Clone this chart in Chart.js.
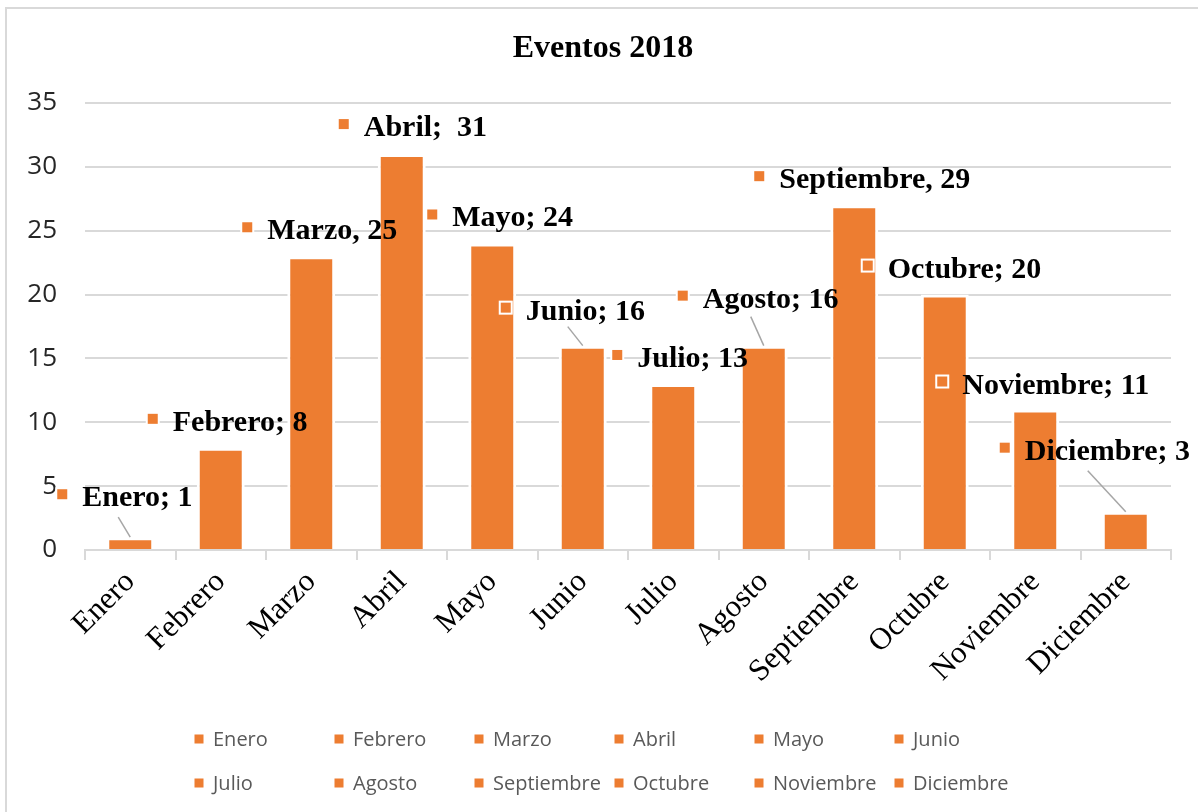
<!DOCTYPE html>
<html lang="es">
<head>
    <meta charset="UTF-8">
    <title>Eventos 2018</title>
    <script src="https://cdn.jsdelivr.net/npm/chart.js"></script>
    <style>
        html, body { margin: 0; padding: 0; background: #fff; }
        #wrap { width: 1198px; height: 812px; }
    </style>
</head>
<body>
    <div id="wrap"><canvas id="eventos" width="1198" height="812"></canvas></div>

    <script>
        // datos
        const titulo = 'Eventos 2018';
        const meses = ['Enero', 'Febrero', 'Marzo', 'Abril', 'Mayo', 'Junio',
                       'Julio', 'Agosto', 'Septiembre', 'Octubre', 'Noviembre', 'Diciembre'];
        const eventos = [1, 8, 23, 31, 24, 16, 13, 16, 27, 20, 11, 3];
        // texto de las etiquetas tal como aparece en el grafico
        const etiquetas = ['Enero; 1', 'Febrero; 8', 'Marzo, 25', 'Abril;  31', 'Mayo; 24', 'Junio; 16',
                           'Julio; 13', 'Agosto; 16', 'Septiembre, 29', 'Octubre; 20', 'Noviembre; 11', 'Diciembre; 3'];
        const yTicks = [0, 5, 10, 15, 20, 25, 30, 35];

        const naranja = '#ED7D31';

        // posicion de cada etiqueta respecto a la parte superior de su barra (px)
        const despEtiqueta = [[-68, -43], [-68, -29], [-64, -29], [-58, -30], [-60, -29], [-77, -38],
                              [-56, -29], [-81, -50], [-95, -29], [-77, -29], [-93, -28], [-121, -64]];
        // lineas guia (inicio respecto a la barra), null = sin linea
        const guias = [[-12, -20], null, null, null, null, [-15, -19],
                       null, [-13, -29], null, null, null, [-38, -41]];

        // fondo, borde del grafico y titulo
        const marco = {
            id: 'marco',
            beforeDraw(chart) {
                const ctx = chart.ctx;
                ctx.save();
                ctx.fillStyle = '#fff';
                ctx.fillRect(0, 0, chart.width, chart.height);
                ctx.strokeStyle = '#d9d9d9';
                ctx.lineWidth = 2;
                ctx.beginPath();
                ctx.moveTo(6, chart.height);
                ctx.lineTo(6, 8);
                ctx.lineTo(chart.width, 8);
                ctx.stroke();
                ctx.fillStyle = '#000';
                ctx.font = 'bold 32px "Liberation Serif"';
                ctx.textAlign = 'center';
                ctx.textBaseline = 'alphabetic';
                ctx.fillText(titulo, 603, 57);
                ctx.restore();
            }
        };

        function cuadro(ctx, x, y, s) {
            ctx.fillStyle = '#fff';
            ctx.fillRect(x - s / 2 - 2, y - s / 2 - 2, s + 4, s + 4);
            ctx.fillStyle = naranja;
            ctx.fillRect(x - s / 2, y - s / 2, s, s);
        }

        const rotulos = {
            id: 'rotulos',
            afterDatasetsDraw(chart) {
                const ctx = chart.ctx;
                const meta = chart.getDatasetMeta(0);
                ctx.save();
                meta.data.forEach((bar, i) => {
                    const g = guias[i];
                    if (g) {
                        ctx.strokeStyle = '#a6a6a6';
                        ctx.lineWidth = 1.5;
                        ctx.beginPath();
                        ctx.moveTo(bar.x + g[0], bar.y + g[1]);
                        ctx.lineTo(bar.x, bar.y);
                        ctx.stroke();
                    }
                    const mx = bar.x + despEtiqueta[i][0];
                    const my = bar.y + despEtiqueta[i][1];
                    cuadro(ctx, mx, my, 10);
                    ctx.fillStyle = '#000';
                    ctx.font = 'bold 30px "Liberation Serif"';
                    ctx.textAlign = 'left';
                    ctx.textBaseline = 'alphabetic';
                    ctx.fillText(etiquetas[i], mx + 20, my + 12);
                });
                ctx.restore();
            }
        };

        const leyenda = {
            id: 'leyenda',
            afterDraw(chart) {
                const ctx = chart.ctx;
                ctx.save();
                ctx.font = '20px "Open Sans"';
                ctx.textBaseline = 'middle';
                ctx.textAlign = 'left';
                meses.forEach((m, i) => {
                    const x = 199 + (i % 6) * 140;
                    const y = 739 + Math.floor(i / 6) * 44;
                    cuadro(ctx, x, y, 9);
                    ctx.fillStyle = '#595959';
                    ctx.fillText(m, x + 14, y + 1);
                });
                ctx.restore();
            }
        };

        const ctx = document.getElementById('eventos').getContext('2d');
        new Chart(ctx, {
            type: 'bar',
            data: {
                labels: meses,
                datasets: [{
                    label: 'Eventos',
                    data: eventos,
                    backgroundColor: naranja,
                    borderColor: '#fff',
                    borderWidth: 3,
                    categoryPercentage: 1,
                    barPercentage: 0.53
                }]
            },
            options: {
                responsive: false,
                animation: false,
                layout: { padding: { left: 0, right: 27, top: 103, bottom: 120 } },
                plugins: {
                    legend: { display: false },
                    tooltip: { enabled: false }
                },
                scales: {
                    x: {
                        afterFit(scale) { scale.height = 142; },
                        grid: {
                            offset: true,
                            drawOnChartArea: false,
                            color: '#d9d9d9',
                            lineWidth: 2,
                            tickLength: 10
                        },
                        border: { display: true, color: '#d9d9d9', width: 2 },
                        ticks: {
                            color: '#000',
                            font: { family: 'Liberation Serif', size: 31 },
                            minRotation: 45,
                            maxRotation: 45,
                            padding: 4
                        }
                    },
                    y: {
                        min: 0,
                        max: 35,
                        afterFit(scale) { scale.width = 85; },
                        afterBuildTicks(scale) {
                            scale.ticks = yTicks.map(v => ({ value: v }));
                        },
                        grid: { color: '#d9d9d9', lineWidth: 2, drawTicks: false },
                        border: { display: false },
                        ticks: {
                            color: '#262626',
                            font: { family: 'Open Sans', size: 26 },
                            padding: 28
                        }
                    }
                }
            },
            plugins: [marco, rotulos, leyenda]
        });
    </script>
</body>
</html>
